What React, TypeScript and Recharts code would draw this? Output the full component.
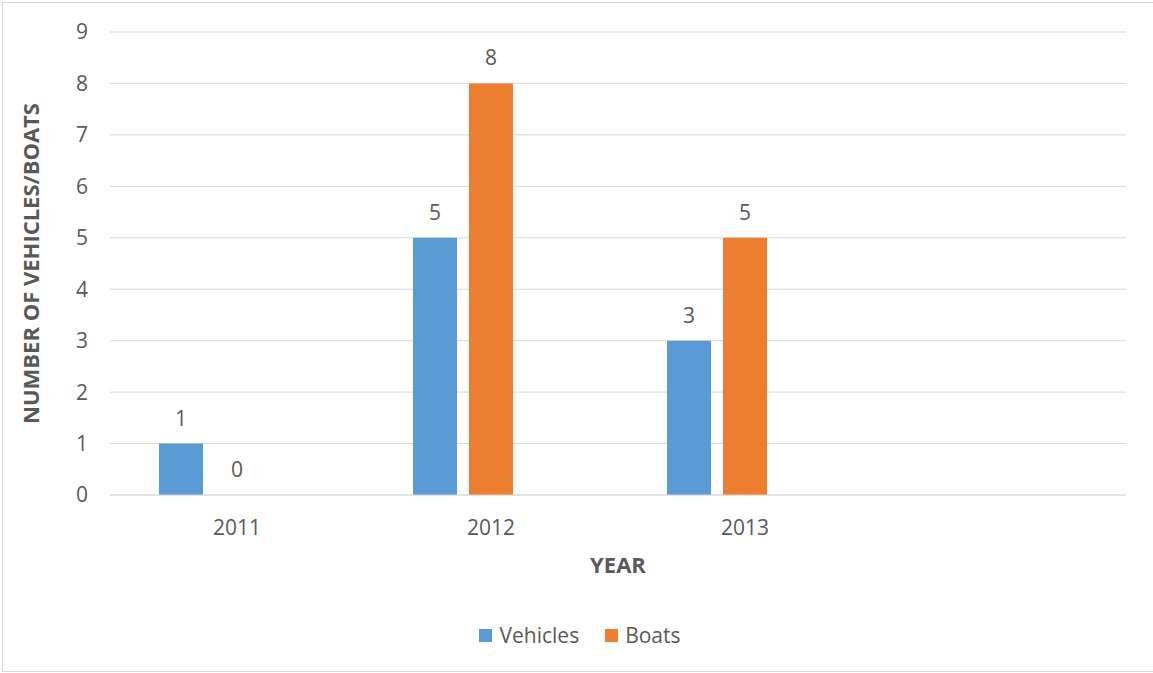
import {
  BarChart,
  Bar,
  XAxis,
  YAxis,
  CartesianGrid,
  Legend,
  LabelList,
} from "recharts";

const years = ["2011", "2012", "2013", ""];
const vehicles = [1, 5, 3, null];
const boats = [0, 8, 5, null];
const series3 = [null, null, null, null];
const yTicks = [0, 1, 2, 3, 4, 5, 6, 7, 8, 9];
const legendOrder = ["Vehicles", "Boats"];

const FONT = "'Open Sans', sans-serif";
const TEXT = "#595959";

const data = years.map((year, i) => ({
  year,
  vehicles: vehicles[i],
  boats: boats[i],
  series3: series3[i],
}));

function LegendContent(props: any) {
  const items = (props.payload || [])
    .filter((p: any) => legendOrder.includes(p.value))
    .sort((a: any, b: any) => legendOrder.indexOf(a.value) - legendOrder.indexOf(b.value));
  return (
    <div
      style={{
        height: 30,
        display: "flex",
        justifyContent: "center",
        alignItems: "center",
        fontFamily: FONT,
        fontSize: 21,
        color: TEXT,
        paddingRight: 16,
      }}
    >
      {items.map((item: any, i: number) => (
        <div
          key={item.value}
          style={{ display: "flex", alignItems: "center", marginLeft: i > 0 ? 26 : 0 }}
        >
          <span
            style={{ width: 13, height: 13, background: item.color, marginRight: 7, display: "inline-block" }}
          />
          <span>{item.value}</span>
        </div>
      ))}
    </div>
  );
}

export default function App() {
  return (
    <div style={{ position: "absolute", left: 0, top: 0, width: 1153, height: 673, background: "#fff" }}>
      <div
        style={{
          position: "absolute",
          left: 2,
          top: 2,
          width: 1160,
          height: 668,
          border: "1px solid #d9d9d9",
        }}
      />
      <BarChart
        width={1153}
        height={673}
        data={data}
        margin={{ top: 32, right: 27, left: 50, bottom: 23 }}
        barGap={12}
        style={{ position: "absolute", left: 0, top: 0 }}
      >
        <CartesianGrid horizontal vertical={false} stroke="#d9d9d9" />
        <XAxis
          dataKey="year"
          height={125}
          tickLine={false}
          tickSize={0}
          tickMargin={25}
          axisLine={{ stroke: "#d9d9d9" }}
          tick={{ fill: TEXT, fontSize: 21, fontFamily: FONT }}
          label={{
            content: (p: any) => {
              const vb = p.viewBox;
              return (
                <text
                  x={vb.x + vb.width / 2}
                  y={573}
                  textAnchor="middle"
                  fill={TEXT}
                  fontSize={22}
                  fontWeight="bold"
                  fontFamily={FONT}
                >
                  YEAR
                </text>
              );
            },
          }}
        />
        <YAxis
          width={60}
          domain={[0, 9]}
          ticks={yTicks}
          interval={0}
          tickLine={false}
          tickSize={0}
          tickMargin={22}
          axisLine={false}
          tick={{ fill: TEXT, fontSize: 21, fontFamily: FONT }}
          label={{
            content: (p: any) => {
              const vb = p.viewBox;
              const cx = 30;
              const cy = vb.y + vb.height / 2;
              return (
                <text
                  x={cx}
                  y={cy}
                  transform={`rotate(-90 ${cx} ${cy})`}
                  textAnchor="middle"
                  dominantBaseline="central"
                  fill={TEXT}
                  fontSize={22}
                  fontWeight="bold"
                  fontFamily={FONT}
                >
                  NUMBER OF VEHICLES/BOATS
                </text>
              );
            },
          }}
        />
        <Legend verticalAlign="bottom" align="center" content={LegendContent} />
        <Bar dataKey="vehicles" name="Vehicles" fill="#5B9BD5" barSize={44} isAnimationActive={false}>
          <LabelList dataKey="vehicles" position="top" offset={18} fill={TEXT} fontSize={21} fontFamily={FONT} />
        </Bar>
        <Bar
          dataKey="boats"
          name="Boats"
          fill="#ED7D31"
          barSize={44}
          minPointSize={0.01}
          isAnimationActive={false}
        >
          <LabelList dataKey="boats" position="top" offset={18} fill={TEXT} fontSize={21} fontFamily={FONT} />
        </Bar>
        <Bar dataKey="series3" name="Series3" fill="#A5A5A5" barSize={44} legendType="none" isAnimationActive={false} />
      </BarChart>
    </div>
  );
}
